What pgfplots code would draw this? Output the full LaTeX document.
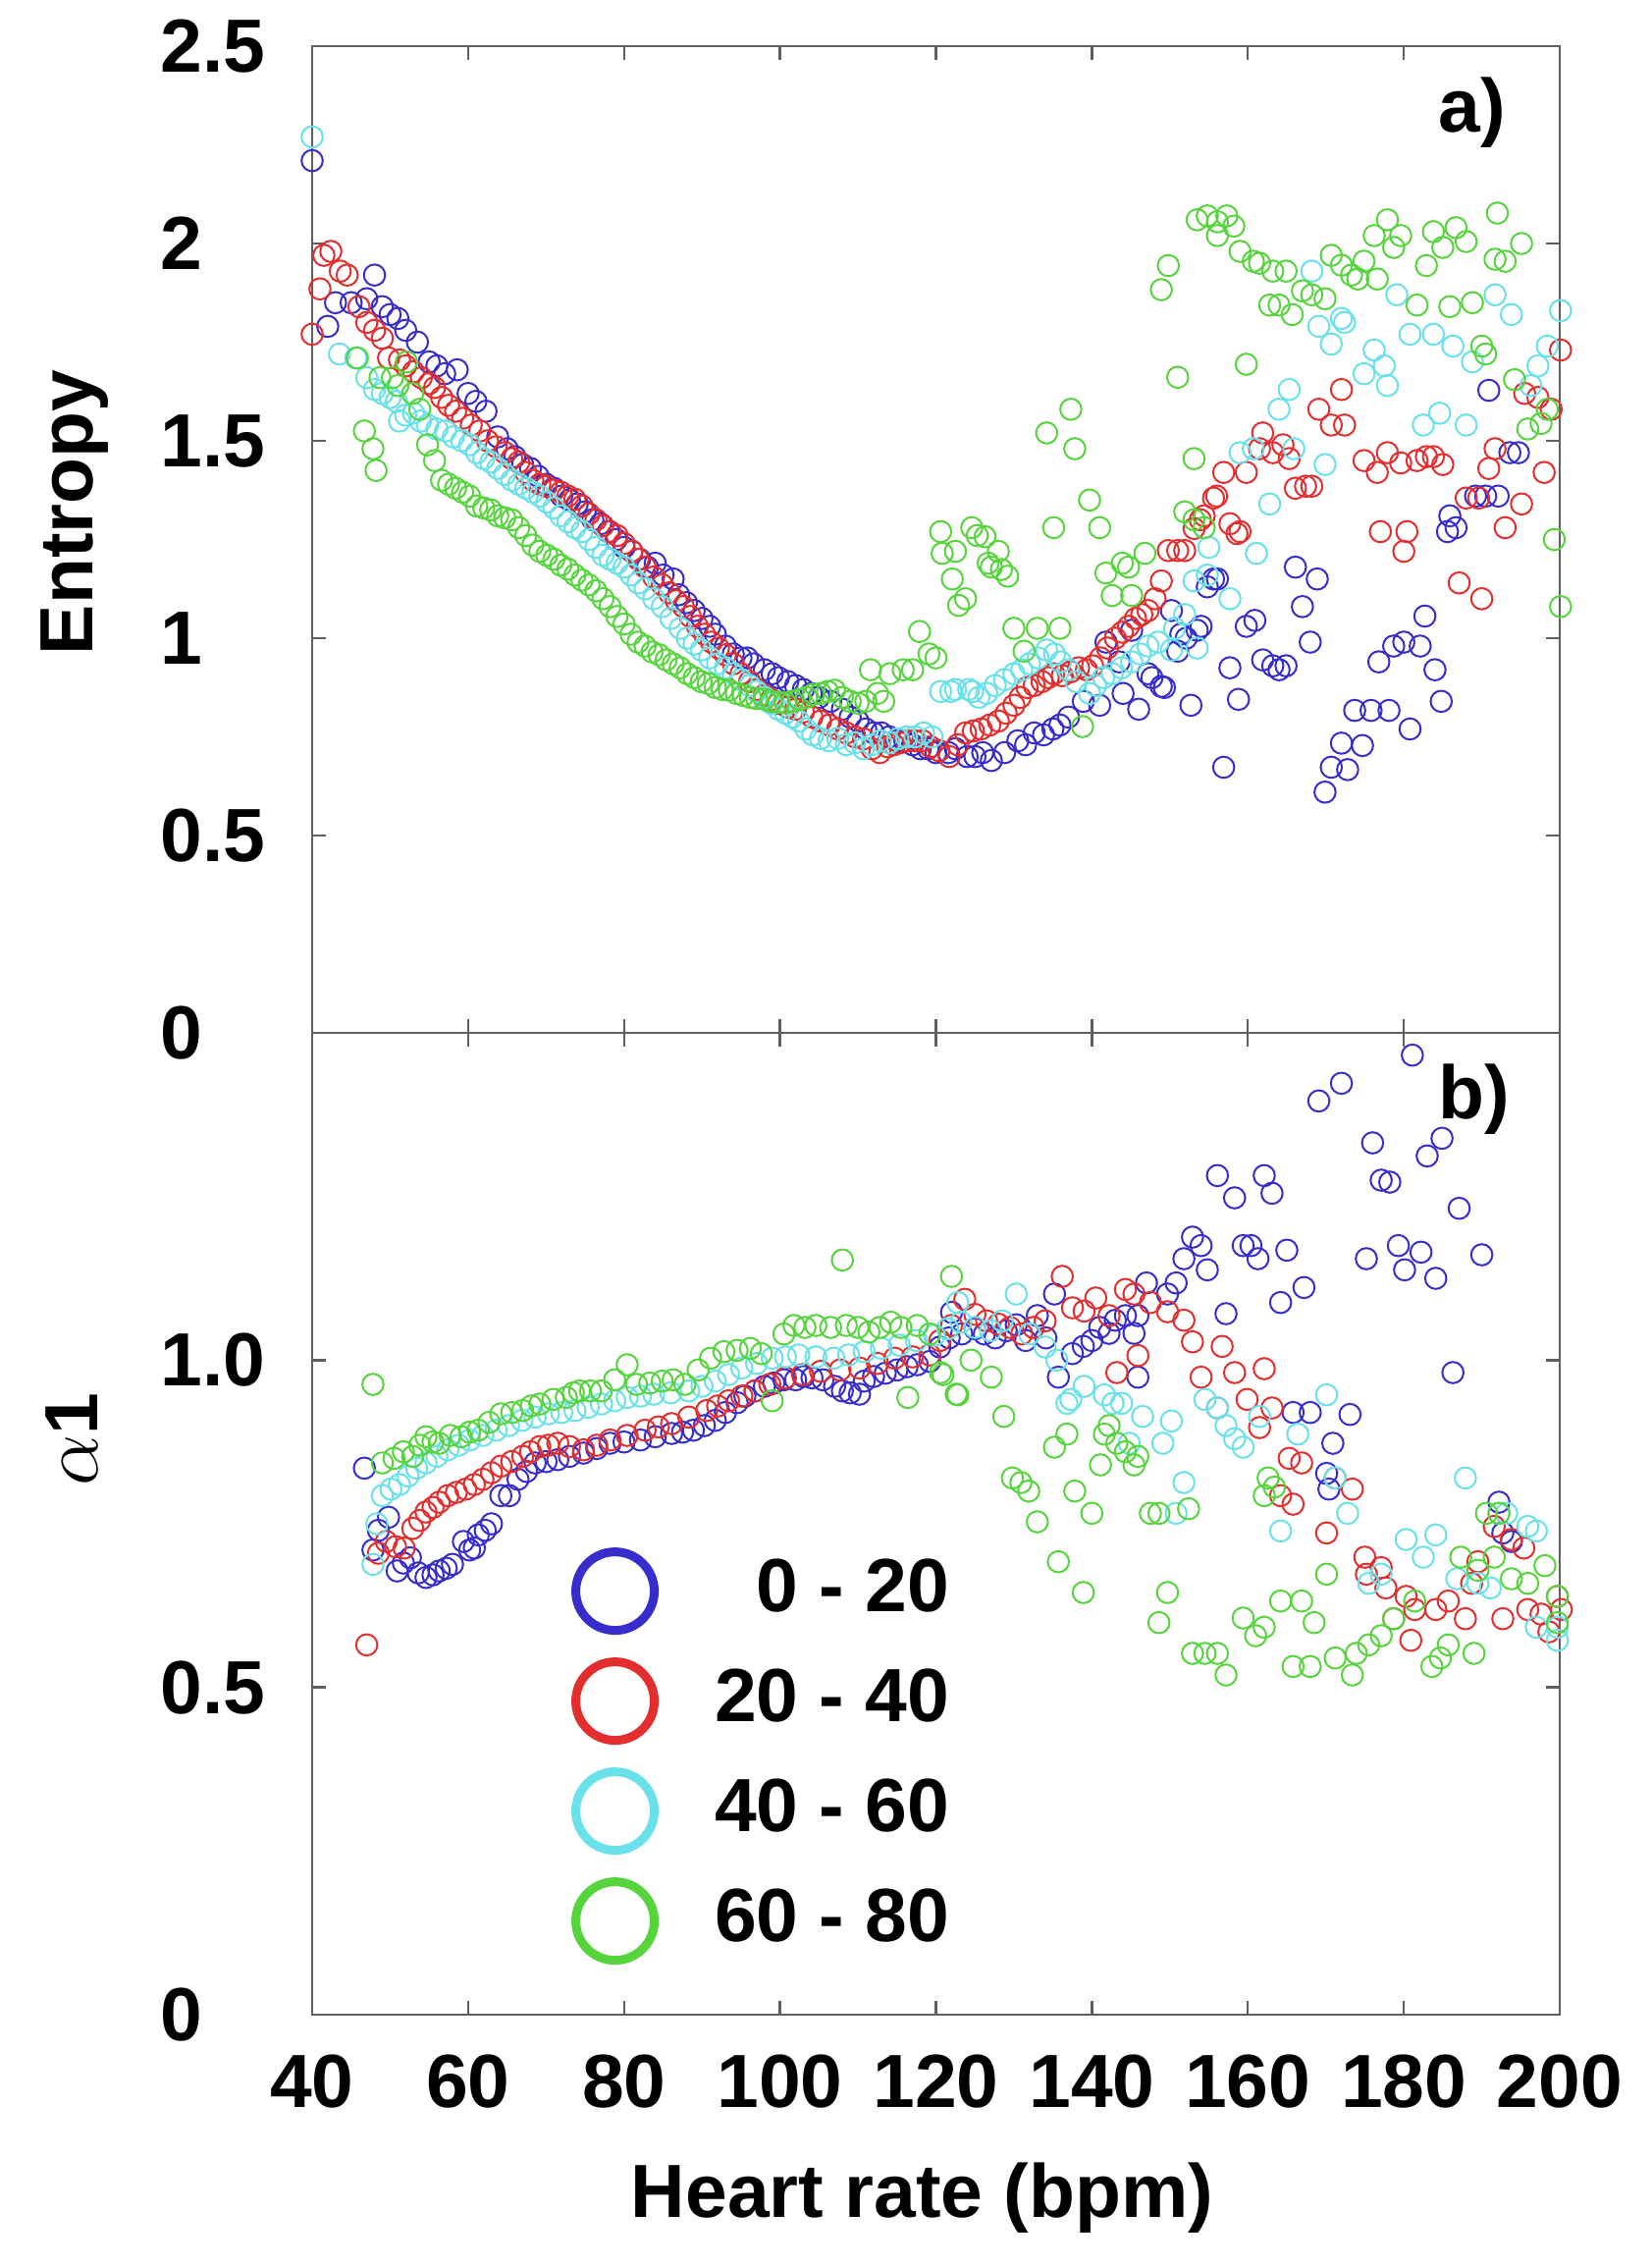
\documentclass[border=0pt]{standalone}
\usepackage{fontspec}
\setmainfont{Liberation Sans}
\usepackage{pgfplots}
\pgfplotsset{compat=1.18}
\definecolor{cb}{RGB}{55,45,205}
\definecolor{cr}{RGB}{228,45,45}
\definecolor{cc}{RGB}{105,225,235}
\definecolor{cg}{RGB}{85,212,60}
\definecolor{axgray}{RGB}{95,95,95}
\pgfplotsset{
  hrbase/.style={
    scale only axis, width=317.75pt, xmin=40, xmax=200,
    xtick={40,60,...,200},
    clip=false,
    axis line style={draw=axgray, line width=0.6pt},
    every tick/.style={draw=axgray, line width=0.6pt},
    major tick length=3.5pt, tick align=inside,
    ticklabel style={font=\fontsize{19.2}{23}\selectfont\bfseries},
    yticklabel style={anchor=west, inner sep=0pt, xshift=-38.75pt},
    xticklabel style={anchor=north, inner sep=0pt, yshift=-10pt},
    label style={font=\fontsize{19.2}{23}\selectfont\bfseries},
  },
  sb/.style={only marks, mark=o, mark size=2.7pt, color=cb, mark options={line width=0.5pt}},
  sr/.style={only marks, mark=o, mark size=2.7pt, color=cr, mark options={line width=0.5pt}},
  sc/.style={only marks, mark=o, mark size=2.7pt, color=cc, mark options={line width=0.5pt}},
  sg/.style={only marks, mark=o, mark size=2.7pt, color=cg, mark options={line width=0.5pt}},
}
\begin{document}
\fontsize{19.2}{23}\selectfont\bfseries
\begin{tikzpicture}[x=1pt,y=1pt]
% ---------------- top panel: entropy ----------------
\begin{axis}[hrbase,
  at={(79.5pt,-263pt)}, anchor=south west, height=251.25pt,
  ymin=0, ymax=2.5, ytick={0,0.5,1,1.5,2,2.5},
  yticklabels={0,0.5,1,1.5,2,2.5},
  xticklabel=\empty,
  ylabel={Entropy},
  ylabel style={at={(axis description cs:-0.1762,0.5274)}, anchor=base, rotate=0},
]
\addplot[sb] coordinates {
(40,2.21)(42,1.79)(43,1.85)(45,1.85)(47,1.86)(48,1.92)(49,1.84)(50,1.82)(51,1.81)(52,1.78)
(53.5,1.75)(55,1.70)(56,1.69)(57,1.67)(58.6,1.68)(60,1.62)(61,1.60)(62.3,1.575)(63.8,1.51)(65,1.48)
(66,1.46)(67,1.44)(68,1.43)(69,1.41)(70,1.39)(71,1.38)(72,1.36)(73,1.35)(74,1.34)(75,1.32)
(76,1.30)(77,1.29)(78,1.27)(79,1.25)(80,1.23)(81,1.22)(82,1.20)(83,1.18)(84,1.19)(85,1.16)
(86.3,1.15)(87,1.11)(88,1.09)(89,1.07)(90,1.05)(91,1.03)(91.7,1.01)(93,0.98)(94,0.96)(95,0.95)
(95.8,0.95)(96.6,0.935)(98,0.92)(99,0.91)(99.8,0.90)(101,0.89)(102,0.88)(103,0.87)(104,0.86)(105,0.85)
(106.5,0.84)(108,0.82)(109,0.80)(110,0.79)(111,0.77)(112,0.76)(113,0.76)(114,0.75)(115,0.74)(116,0.74)
(117,0.73)(118,0.72)(119,0.72)(120,0.71)(121.6,0.71)(122.5,0.72)(124,0.70)(125,0.70)(126,0.71)(127.1,0.69)
(128.8,0.71)(130.5,0.74)(131.5,0.73)(132.6,0.76)(133.8,0.755)(135,0.77)(135.9,0.78)(137,0.80)(138.9,0.84)(141,0.83)
(141.8,0.99)(143.5,0.94)(144,0.86)(145.1,1.02)(146,0.82)(147.2,0.91)(147.7,0.90)(148.9,0.878)(149.3,0.875)(150.2,1.07)
(151,0.967)(151.4,1.01)(152.1,1.0)(152.7,0.83)(153.5,1.02)(154,1.03)(154.8,1.13)(155.6,1.15)(156.1,1.15)(156.9,0.673)
(157.7,0.925)(158.8,0.845)(159.8,1.03)(160.9,1.045)(161.9,0.945)(163.2,0.93)(164,0.92)(164.9,0.93)(166.1,1.18)(167,1.08)
(168,0.99)(168.9,1.15)(169.9,0.61)(170.7,0.673)(172,0.734)(172.8,0.667)(173.7,0.817)(174.7,0.728)(175.8,0.817)(176.8,0.94)
(178.1,0.817)(178.7,0.98)(180,0.99)(180.8,0.77)(182.1,0.98)(182.7,1.056)(184,0.92)(184.8,0.84)(185.6,1.27)(185.9,1.31)
(186.7,1.28)(189.2,1.36)(190.5,1.36)(190.9,1.628)(192.1,1.36)(193.6,1.47)(194.7,1.47)
};
\addplot[sr] coordinates {
(40,1.77)(41,1.885)(41.5,1.97)(42.4,1.98)(43.6,1.93)(44.5,1.92)(46,1.84)(47,1.80)(48,1.78)(49,1.76)
(49.8,1.71)(51.2,1.705)(52,1.69)(53,1.675)(54,1.66)(55,1.645)(55.7,1.635)(56.6,1.61)(57.5,1.59)(58.4,1.575)
(59.3,1.557)(60.4,1.54)(61.5,1.525)(62.5,1.50)(63.6,1.485)(64.7,1.47)(65.6,1.455)(66.5,1.446)(67.4,1.42)(68.3,1.40)
(69.2,1.39)(70,1.385)(71,1.375)(71.9,1.37)(72.8,1.36)(73.7,1.352)(74.6,1.335)(75.5,1.315)(76.4,1.30)(77.3,1.285)
(78.2,1.27)(79.1,1.26)(80,1.24)(81,1.22)(81.8,1.20)(82.7,1.18)(83.8,1.155)(84.9,1.135)(85.8,1.115)(86.7,1.095)
(87.6,1.08)(88.5,1.055)(89.4,1.03)(90.3,1.01)(91.2,0.99)(92.1,0.975)(93,0.958)(94,0.935)(95,0.91)(96.1,0.89)
(97,0.87)(98,0.855)(98.9,0.845)(99.8,0.835)(101,0.825)(102,0.82)(103,0.813)(104.1,0.80)(105.2,0.79)(106.3,0.78)
(107.4,0.77)(108.5,0.76)(109.6,0.75)(110.7,0.745)(111.8,0.72)(112.8,0.71)(113.8,0.725)(114.6,0.73)(115.4,0.735)(116.4,0.74)
(117.3,0.74)(118.3,0.74)(119.3,0.725)(120.4,0.715)(121.7,0.70)(122.8,0.73)(123.8,0.76)(124.8,0.765)(125.8,0.77)(126.9,0.78)
(128,0.79)(129,0.81)(130,0.83)(130.8,0.85)(131.7,0.875)(132.6,0.88)(133.6,0.89)(134.4,0.90)(135.1,0.91)(136.2,0.905)
(137.3,0.915)(138.3,0.925)(139.3,0.92)(140.1,0.93)(141.1,0.95)(142,0.975)(143,1.0)(143.9,1.015)(144.7,1.03)(145.6,1.05)
(146.4,1.06)(147.2,1.07)(148.1,1.10)(148.9,1.145)(149.8,1.222)(151,1.222)(151.9,1.222)(153.1,1.278)(153.9,1.30)(154.4,1.31)
(155.6,1.355)(156,1.36)(156.9,1.42)(157.7,1.29)(158.6,1.265)(159,1.27)(159.8,1.42)(161.5,1.48)(161.9,1.52)(163.2,1.47)
(164.5,1.49)(165.3,1.455)(166.1,1.38)(167.4,1.385)(168.2,1.385)(169.1,1.58)(170.7,1.54)(172,1.63)(172.4,1.54)(174.9,1.45)
(176.6,1.42)(177,1.27)(177.9,1.47)(179.6,1.444)(180,1.22)(180.4,1.27)(181.7,1.45)(182.9,1.46)(183.8,1.46)(185,1.44)
(187.1,1.14)(188,1.355)(189.6,1.355)(190,1.10)(190.9,1.43)(191.7,1.48)(193,1.28)(195.1,1.34)(195.5,1.62)(197.2,1.61)
(198,1.42)(198.9,1.58)(200.1,1.73)
};
\addplot[sc] coordinates {
(40,2.27)(43.5,1.72)(45.6,1.71)(47,1.66)(48,1.63)(49,1.62)(50,1.61)(50.8,1.60)(51.2,1.55)(52,1.565)
(53,1.57)(53.9,1.55)(54.8,1.54)(56,1.53)(57.1,1.525)(58.1,1.51)(59.2,1.50)(60.2,1.49)(61.1,1.47)(62,1.455)
(62.9,1.446)(63.8,1.43)(64.7,1.415)(65.6,1.40)(66.5,1.39)(67.4,1.38)(68.3,1.37)(69.2,1.36)(70.1,1.345)(71,1.33)
(71.9,1.31)(72.8,1.295)(73.7,1.28)(74.6,1.27)(75.5,1.25)(76.4,1.23)(77.3,1.21)(78.2,1.20)(79.1,1.19)(80,1.18)
(80.9,1.16)(81.8,1.14)(82.7,1.125)(83.8,1.10)(84.9,1.08)(86,1.05)(87.2,1.025)(88.1,1.00)(89,0.985)(89.9,0.97)
(91,0.95)(92,0.935)(93,0.925)(94,0.91)(95,0.895)(96.1,0.88)(97,0.865)(98,0.85)(98.9,0.835)(99.8,0.82)
(100.7,0.81)(101.6,0.80)(102.4,0.79)(103.3,0.77)(104.2,0.755)(105.2,0.746)(106.3,0.74)(107.4,0.746)(108.5,0.73)(109.6,0.735)
(110.7,0.72)(111.8,0.73)(112.9,0.74)(114,0.735)(115.1,0.745)(116.2,0.75)(117.3,0.75)(118.4,0.76)(119.5,0.75)(120.6,0.865)
(121.9,0.865)(122.5,0.87)(124.2,0.87)(124.7,0.865)(125.5,0.85)(126.5,0.86)(127.6,0.88)(128.8,0.895)(130,0.91)(131,0.92)
(132,0.935)(133.1,0.95)(134.2,0.97)(135.2,0.96)(136,0.94)(137,0.92)(138,0.89)(139.7,0.86)(140.5,0.88)(141.5,0.90)
(142.6,0.91)(143.8,0.925)(145.1,0.94)(146.2,0.96)(147.2,0.98)(148.5,0.99)(150.2,0.97)(150.6,1.025)(151.9,1.06)(153.1,1.145)
(153.5,0.975)(154.8,1.16)(155,1.23)(157.7,1.10)(159,1.47)(160.7,1.48)(161.1,1.215)(162.8,1.34)(164,1.58)(165.3,1.63)
(165.9,1.48)(168.2,1.93)(169.1,1.79)(169.9,1.44)(170.7,1.745)(172,1.81)(172.4,1.80)(174.9,1.67)(176.2,1.73)(177.5,1.69)
(177.9,1.64)(179.1,1.87)(180.8,1.77)(182.5,1.54)(183.8,1.77)(184.6,1.57)(186.3,1.74)(188,1.54)(188.8,1.70)(191.7,1.87)
(193.8,1.82)(196.3,1.64)(197.2,1.69)(198.4,1.74)(200.1,1.83)
};
\addplot[sg] coordinates {
(45.8,1.71)(46.7,1.525)(47.8,1.48)(48.2,1.425)(48.7,1.66)(50.3,1.66)(51,1.64)(52.1,1.70)(52.9,1.62)(53.8,1.58)
(54.8,1.49)(55.7,1.45)(56.6,1.40)(57.5,1.39)(58.4,1.38)(59.3,1.37)(60.2,1.36)(61.1,1.335)(62,1.33)(62.9,1.325)
(63.8,1.31)(64.7,1.305)(65.6,1.30)(66.5,1.28)(67.4,1.26)(68.3,1.236)(69.2,1.22)(70.1,1.21)(71,1.20)(71.9,1.185)
(72.8,1.175)(73.7,1.16)(74.6,1.147)(75.5,1.135)(76.4,1.12)(77.3,1.10)(78.2,1.08)(79.1,1.055)(80,1.036)(80.9,1.01)
(81.8,0.99)(82.7,0.98)(83.6,0.965)(84.5,0.958)(85.4,0.945)(86.3,0.935)(87.2,0.925)(88.1,0.91)(89,0.90)(89.9,0.89)
(90.8,0.885)(91.7,0.875)(92.6,0.87)(93.5,0.868)(94.4,0.86)(95.3,0.855)(96.2,0.85)(97,0.847)(98,0.845)(98.9,0.84)
(99.8,0.838)(100.7,0.836)(101.6,0.84)(102.5,0.845)(103.4,0.85)(104.3,0.858)(105.2,0.86)(106.1,0.865)(107,0.868)(108,0.85)
(109,0.84)(110,0.835)(111,0.84)(111.6,0.92)(112.5,0.86)(113.3,0.84)(114.1,0.91)(115.8,0.92)(117,0.92)(117.9,1.017)
(119.1,0.96)(120,0.95)(120.6,1.27)(120.8,1.215)(122.1,1.15)(122.5,1.22)(122.9,1.083)(123.8,1.10)(124.6,1.28)(125.3,1.26)
(126.3,1.257)(126.7,1.19)(127.1,1.18)(128,1.22)(128.4,1.174)(129.2,1.157)(130,1.025)(131.3,0.967)(133,1.025)(134.2,1.52)
(135.1,1.28)(135.9,1.025)(137.3,1.58)(137.8,1.48)(138.8,0.776)(139.7,1.35)(141,1.28)(141.8,1.165)(142.6,1.108)(143.9,1.19)
(144.7,1.18)(145.1,1.108)(146.8,1.215)(148.9,1.883)(149.8,1.944)(151,1.661)(151.9,1.32)(153.1,1.30)(153.1,1.455)(153.5,2.06)
(154.4,1.28)(154.8,2.07)(156.1,2.055)(156.1,2.02)(157.3,2.07)(158.2,2.044)(159,1.98)(159.8,1.694)(160.7,1.955)(161.5,1.95)
(162.8,1.844)(163.2,1.93)(164,1.844)(164.9,1.93)(165.7,1.82)(167,1.88)(168.2,1.87)(169.9,1.86)(170.7,1.97)(172,1.945)
(173.3,1.92)(174.1,1.91)(174.9,1.955)(176.2,2.02)(176.6,1.91)(177.9,2.06)(178.7,1.99)(179.6,2.02)(181.7,1.844)(182.9,1.944)
(183.8,2.03)(185,1.99)(185.9,1.84)(186.7,2.04)(188,2.005)(188.8,1.85)(190,1.74)(190.5,1.72)(191.7,1.96)(192,2.077)
(193,1.955)(194.2,1.655)(195.1,2.0)(195.9,1.53)(197.6,1.544)(198.4,1.58)(199.3,1.25)(200.1,1.08)
};
\node[anchor=base west, inner sep=0pt] at (axis description cs:0.9024,0.9134) {a)};
\end{axis}
% ---------------- bottom panel: alpha1 ----------------
\begin{axis}[hrbase,
  at={(79.5pt,-513pt)}, anchor=south west, height=250pt,
  ymin=0, ymax=1.5, ytick={0,0.5,1}, yticklabels={0,0.5,1.0},
  xticklabels={40,60,80,100,120,140,160,180,200},
  xlabel={Heart rate (bpm)},
  xlabel style={at={(axis description cs:0.489,0)}, anchor=base, yshift=-51.5pt},
  ylabel={$\alpha$1},
  ylabel style={at={(axis description cs:-0.1723,0.586)}, anchor=base, rotate=0},
  legend style={at={(axis description cs:0.2113,0.4714)}, anchor=north west,
    draw=none, fill=none, inner sep=0pt, outer sep=0pt,
    row sep=8pt, column sep=15.4pt,
    nodes={inner sep=0pt},
    font=\fontsize{19.2}{23}\selectfont\bfseries},
  legend cell align=right,
  legend image code/.code={\draw[#1,mark size=10pt,mark options={line width=2.25pt}] plot coordinates {(0pt,0pt)};},
]
\addplot[sb] coordinates {
(46.7,0.835)(47.8,0.71)(48.5,0.74)(49.8,0.76)(50.9,0.678)(51.7,0.69)(52.6,0.698)(53.6,0.675)(54.6,0.668)(55.5,0.672)
(56.3,0.678)(57.2,0.682)(58,0.688)(59.4,0.723)(60.2,0.71)(60.8,0.713)(61.3,0.733)(62.2,0.74)(63,0.75)(64.2,0.793)
(65.3,0.793)(66.4,0.818)(67.5,0.83)(68.6,0.843)(70,0.845)(71.5,0.848)(73,0.853)(74.8,0.858)(76.5,0.865)(78.2,0.873)
(80,0.875)(82.1,0.878)(84,0.883)(86.1,0.888)(87.5,0.89)(88.9,0.893)(90.3,0.90)(91.7,0.908)(93,0.92)(94.5,0.935)
(95.5,0.945)(96.8,0.953)(98,0.96)(99.2,0.965)(100.5,0.97)(102,0.97)(103,0.975)(104.1,0.973)(105.5,0.97)(107,0.96)
(108,0.953)(109,0.95)(110.2,0.948)(110.8,0.968)(112,0.975)(113.5,0.98)(115,0.985)(116.3,0.99)(117.6,0.993)(119.2,0.998)
(120.5,1.02)(121.7,1.034)(122,1.073)(123.3,1.04)(125,1.048)(126.2,1.04)(127.6,1.034)(129,1.045)(130.3,1.054)(131.5,1.03)
(133,1.068)(134.1,1.034)(135.2,1.101)(135.7,0.974)(137.5,1.01)(138.9,1.021)(140,1.03)(141,1.05)(142.2,1.041)(143,1.061)
(144.3,1.068)(145.4,1.041)(145.9,1.068)(145.9,0.974)(147,1.118)(149.7,1.101)(150.8,1.118)(151.8,1.155)(152.9,1.188)(154,1.175)
(154.8,1.138)(156.1,1.282)(157.2,1.071)(158.3,1.248)(159.4,1.175)(160.4,1.175)(161.3,1.155)(162.1,1.282)(163.1,1.255)(164.2,1.088)
(165,1.168)(165.8,0.92)(167.2,1.111)(168,0.92)(169.1,1.396)(170.1,0.827)(170.4,0.803)(170.9,0.873)(172,1.423)(173.1,0.917)
(175.2,1.155)(176,1.332)(177.1,1.275)(178.2,1.272)(179.3,1.175)(180.1,1.138)(181.1,1.466)(182.2,1.165)(183,1.312)(184.1,1.125)
(184.9,1.339)(186.3,0.981)(187.1,1.232)(190,1.161)(192.2,0.783)(192.7,0.736)(193.8,0.723)
};
\addlegendentry{0 - 20}
\addplot[sr] coordinates {
(47,0.565)(48.5,0.705)(49.5,0.723)(50.7,0.715)(51.8,0.713)(52.9,0.743)(53.8,0.755)(54.6,0.768)(55.5,0.775)(56.3,0.783)
(57.4,0.793)(58.5,0.798)(59.7,0.803)(60.8,0.81)(61.9,0.818)(63,0.828)(64.2,0.838)(65.6,0.845)(67,0.853)(68,0.86)
(69.2,0.868)(70.3,0.87)(71.5,0.873)(73,0.868)(74.8,0.863)(76.5,0.87)(78.2,0.878)(80.4,0.885)(82.7,0.893)(84.4,0.898)
(86.1,0.903)(88.3,0.913)(90.6,0.923)(92,0.93)(93.4,0.938)(95.1,0.945)(96.8,0.953)(98.7,0.963)(100.7,0.973)(102.9,0.978)
(105.2,0.983)(107.7,0.985)(110.2,0.988)(112.5,0.995)(114.7,1.003)(117,1.005)(119.2,1.008)(120.5,1.03)(122,1.053)(123.7,1.093)
(125,1.07)(126.5,1.06)(128,1.055)(129.5,1.05)(131,1.04)(132.5,1.05)(134,1.06)(136.2,1.128)(137.5,1.08)(139,1.075)
(140.5,1.095)(142.2,1.068)(143.2,0.981)(144.3,1.108)(145.4,1.101)(145.9,1.007)(147.5,1.088)(149.7,1.074)(151.8,1.061)(152.9,1.028)
(154,0.974)(156.1,0.927)(156.7,1.021)(158.3,0.981)(159.9,0.94)(161.5,0.897)(162.1,0.987)(163.1,0.927)(164.2,0.793)(165.3,0.85)
(165.8,0.78)(166.9,0.843)(170.1,0.736)(171.2,0.82)(173.4,0.803)(175,0.699)(175.2,0.673)(177.1,0.683)(177.7,0.652)(178.7,0.605)
(180.3,0.639)(180.9,0.572)(181.4,0.619)(184.1,0.619)(185.7,0.632)(187.9,0.605)(188.7,0.659)(189.5,0.692)(191.6,0.746)(192.7,0.605)
(193.8,0.726)(195.4,0.713)(195.9,0.619)(197.6,0.612)(198.6,0.585)(199.7,0.639)(200.2,0.619)
};
\addlegendentry{20 - 40}
\addplot[sc] coordinates {
(47.8,0.688)(48.3,0.75)(49,0.793)(50.1,0.803)(51.2,0.81)(52.3,0.823)(53.4,0.835)(54.6,0.843)(56,0.853)(57.4,0.863)
(58.8,0.87)(60.2,0.878)(61.9,0.885)(63.6,0.893)(65.2,0.90)(66.9,0.908)(68.6,0.913)(70.3,0.918)(72,0.92)(73.7,0.923)
(75.4,0.928)(77.1,0.933)(78.8,0.938)(80.4,0.943)(82.1,0.945)(83.8,0.948)(86,0.95)(88.3,0.953)(90,0.96)(91.7,0.968)
(93.4,0.978)(95.1,0.988)(97,0.995)(99,1.003)(100.7,1.005)(102.4,1.008)(104.6,1.005)(106.9,1.003)(108.8,1.008)(110.8,1.013)
(113,1.018)(115.3,1.023)(117.5,1.03)(119.8,1.038)(121.5,1.048)(122.8,1.088)(123.2,1.058)(125,1.05)(127,1.045)(128.5,1.06)
(130.3,1.101)(132,1.04)(134,1.02)(135.5,1.0)(136.8,0.934)(137.3,0.94)(139,0.96)(141.6,0.947)(142.7,0.934)(143.8,0.934)
(144.8,0.873)(146.5,0.914)(149.1,0.873)(150.2,0.907)(150.8,0.766)(151.8,0.813)(154.5,0.94)(156.1,0.927)(157.2,0.9)(158.3,0.88)
(159.4,0.867)(161.5,0.914)(164.2,0.739)(166.4,0.887)(170.1,0.947)(171.2,0.82)(172.8,0.766)(175.5,0.659)(177.1,0.673)(180.3,0.726)
(182.5,0.699)(184.1,0.733)(186.8,0.666)(187.9,0.82)(189.5,0.659)(191.1,0.652)(192.2,0.766)(193.2,0.766)(195.9,0.746)(197,0.739)
(197,0.592)(199.7,0.572)(199.7,0.592)
};
\addlegendentry{40 - 60}
\addplot[sg] coordinates {
(47.8,0.963)(49,0.843)(50.5,0.85)(51.7,0.86)(52.9,0.853)(53.8,0.87)(54.6,0.883)(55.5,0.875)(56.3,0.873)(57.7,0.885)
(59.1,0.883)(60.2,0.89)(61.3,0.893)(62.7,0.905)(64.2,0.918)(65.6,0.92)(67,0.923)(68.1,0.93)(69.2,0.933)(70.9,0.94)
(72.6,0.943)(73.5,0.95)(74.3,0.953)(75.7,0.953)(77.1,0.953)(78.8,0.97)(80.4,0.993)(81.6,0.963)(83.3,0.965)(84.9,0.968)
(86.3,0.97)(87.8,0.963)(89.5,0.985)(91.1,1.003)(92.8,1.013)(94.5,1.015)(96.2,1.018)(97.6,1.01)(99,0.938)(100.5,1.04)
(101.8,1.053)(103.2,1.05)(104.6,1.053)(106.5,1.05)(108,1.153)(108.5,1.053)(110,1.05)(111.4,1.043)(112.8,1.05)(114.2,1.058)
(115.5,1.05)(116.4,0.943)(117.6,1.053)(119.2,1.04)(120.6,0.981)(120.9,0.978)(122,1.128)(122.6,0.948)(122.8,0.947)(124.5,1.0)
(127.1,0.974)(128.7,0.914)(129.8,0.82)(130.9,0.813)(131.9,0.80)(133,0.753)(135.2,0.867)(135.7,0.692)(136.8,0.887)(137.8,0.80)
(138.9,0.645)(140,0.766)(141.1,0.84)(141.6,0.887)(142.2,0.9)(143.2,0.873)(144.3,0.86)(145.4,0.84)(145.9,0.853)(147.5,0.766)
(148.6,0.766)(148.6,0.599)(149.7,0.645)(152.4,0.773)(152.9,0.552)(154.5,0.552)(156.1,0.552)(157.2,0.519)(159.4,0.606)(161,0.579)
(162.1,0.592)(162.1,0.793)(162.6,0.82)(163.4,0.806)(164.2,0.632)(165.8,0.532)(166.9,0.632)(168,0.532)(168.5,0.599)(170.1,0.673)
(171.2,0.545)(173.4,0.519)(173.9,0.552)(175.5,0.565)(177.1,0.579)(178.7,0.605)(181.4,0.632)(183.6,0.532)(184.7,0.545)(185.7,0.565)
(187.3,0.699)(189,0.552)(189.5,0.679)(190.6,0.766)(191.6,0.699)(192.2,0.766)(193.8,0.666)(195.9,0.659)(198.1,0.686)(199.7,0.639)
(199.7,0.599)
};
\addlegendentry{60 - 80}
\node[anchor=base west, inner sep=0pt] at (axis description cs:0.9024,0.913) {b)};
\end{axis}
\pgfresetboundingbox
\path[use as bounding box] (0pt,0pt) rectangle (420.5pt,-577.25pt);
\end{tikzpicture}
\end{document}
